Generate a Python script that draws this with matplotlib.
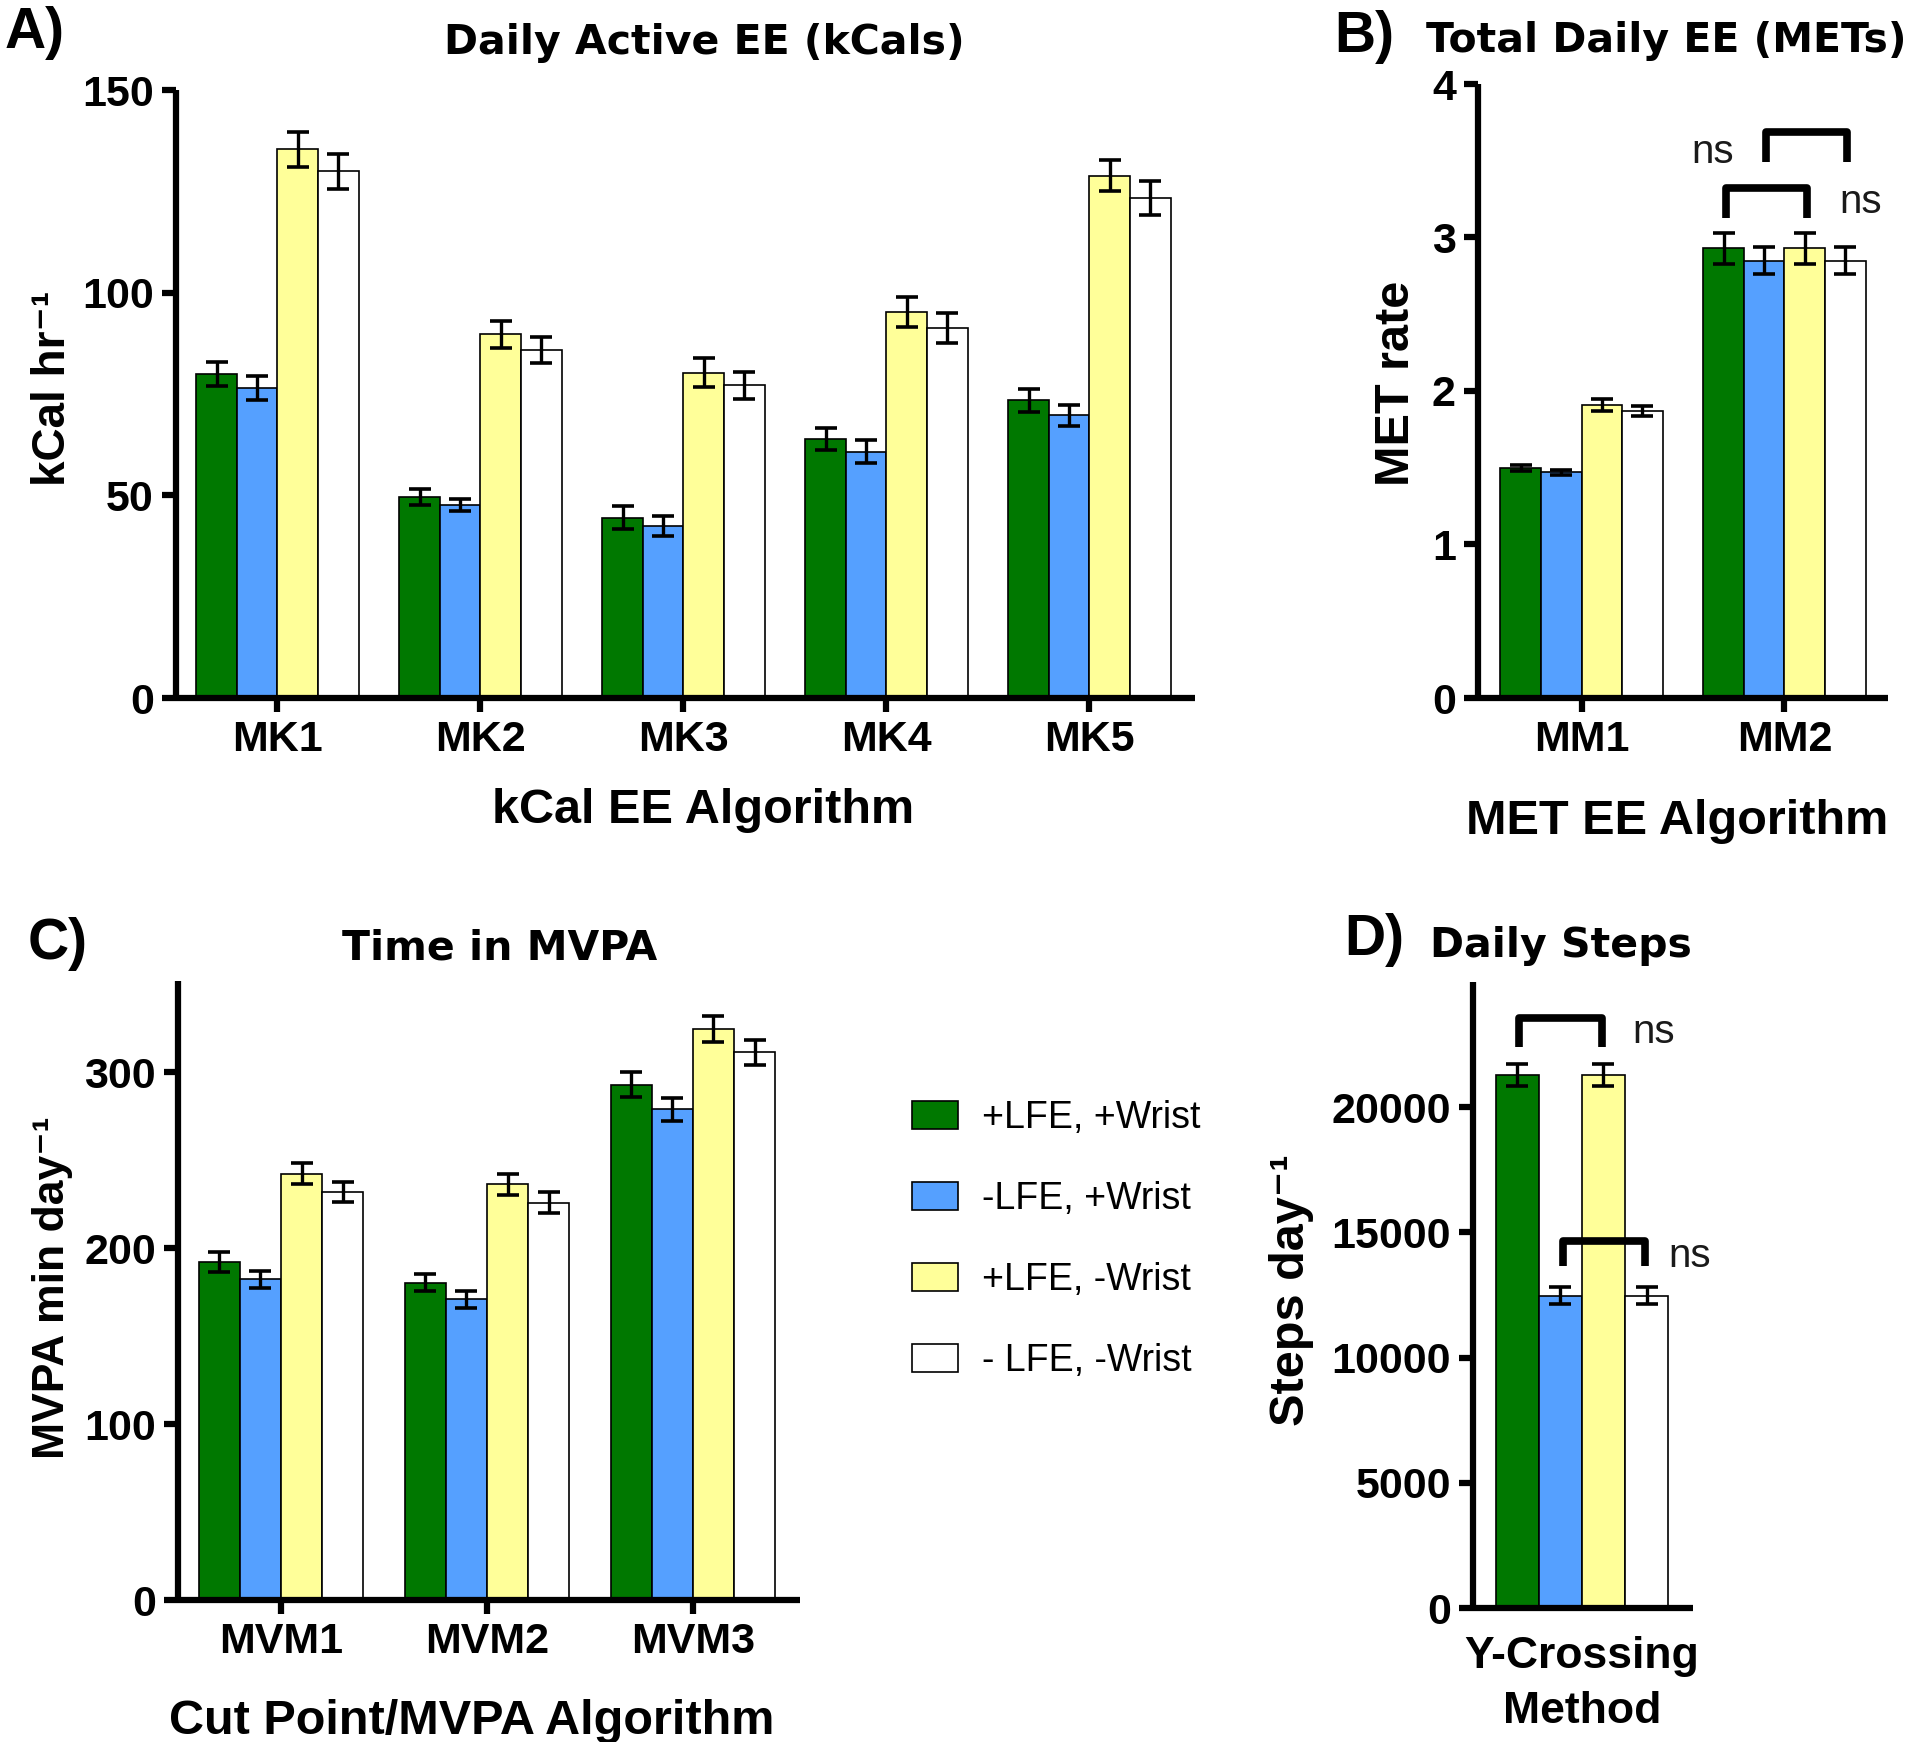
import numpy as np
import matplotlib
matplotlib.use("Agg")
import matplotlib.pyplot as plt

plt.rcParams['font.family'] = ['Liberation Sans', 'DejaVu Sans']

W, H = 1920, 1742

# ---- data ----
groups = ["+LFE, +Wrist", "-LFE, +Wrist", "+LFE, -Wrist", "- LFE, -Wrist"]
colors = ["#007800", "#55A0FF", "#FFFF99", "#FFFFFF"]

kcal_algos = ["MK1", "MK2", "MK3", "MK4", "MK5"]
kcal_mean = [[80.0, 49.6, 44.5, 63.9, 73.4],
             [76.5, 47.6, 42.5, 60.8, 69.7],
             [135.4, 89.7, 80.3, 95.3, 128.9],
             [129.9, 85.8, 77.1, 91.3, 123.3]]
kcal_err = [[3.0, 1.9, 2.8, 2.8, 2.8],
            [2.9, 1.5, 2.5, 2.9, 2.7],
            [4.3, 3.3, 3.5, 3.7, 3.8],
            [4.3, 3.2, 3.3, 3.7, 4.2]]

met_algos = ["MM1", "MM2"]
met_mean = [[1.50, 2.93], [1.47, 2.85], [1.91, 2.93], [1.87, 2.85]]
met_err = [[0.02, 0.10], [0.015, 0.09], [0.04, 0.10], [0.03, 0.09]]

mvpa_algos = ["MVM1", "MVM2", "MVM3"]
mvpa_mean = [[192, 180.5, 293], [182.5, 171, 279],
             [242.5, 236.5, 324.5], [232, 226, 311.5]]
mvpa_err = [[5.7, 4.6, 7.0], [4.8, 5.0, 6.6], [6.0, 6.0, 7.4], [5.5, 6.0, 7.2]]

steps_algos = ["Y-Crossing\nMethod"]
steps_mean = [[21280], [12480], [21280], [12480]]
steps_err = [[440], [320], [440], [320]]

# brackets: (series a, series b, group, top, leg bottom), ns label pos (x, y)
met_brackets = [(0, 2, 1, 3.32, 3.13), (1, 3, 1, 3.69, 3.49)]
met_ns = [(1.27, 3.23), (0.54, 3.56)]
steps_brackets = [(0, 2, 0, 23560, 22400), (1, 3, 0, 14640, 13640)]
steps_ns = [(0.235, 23000), (0.40, 14040)]

bw = 0.2
offs = (np.arange(4) - 1.5) * bw

def box(l, r, t, b):
    return [l / W, 1 - b / H, (r - l) / W, (b - t) / H]

fig = plt.figure(figsize=(W / 100, H / 100), dpi=100)

def draw(ax, cats, mean, err, ylim, yticks, xlim):
    x = np.arange(len(cats))
    for i in range(4):
        ax.bar(x + offs[i], mean[i], bw, color=colors[i], edgecolor='black',
               linewidth=1.2, label=groups[i], zorder=2)
        ax.errorbar(x + offs[i], mean[i], yerr=err[i], fmt='none', ecolor='black',
                    elinewidth=2.4, capsize=8, capthick=2.6, zorder=3)
    ax.set_xlim(*xlim)
    ax.set_ylim(*ylim)
    ax.set_yticks(yticks)
    ax.set_xticks(x)
    ax.set_xticklabels(cats)
    for s in ['top', 'right']:
        ax.spines[s].set_visible(False)
    for s in ['left', 'bottom']:
        ax.spines[s].set_linewidth(4.5)
        ax.spines[s].set_capstyle('butt')
    ax.tick_params(width=4.5, length=10, pad=6, labelsize=31)
    for lb in ax.get_xticklabels() + ax.get_yticklabels():
        lb.set_fontweight('bold')

def bracket(ax, x1, x2, top, bot):
    ax.plot([x1, x1, x2, x2], [bot, top, top, bot], color='black', lw=5.5,
            solid_joinstyle='round', solid_capstyle='butt', clip_on=False, zorder=4)

# A
axA = fig.add_axes(box(176, 1195, 90, 698))
draw(axA, kcal_algos, kcal_mean, kcal_err, (0, 150), [0, 50, 100, 150], (-0.5, 4.52))

# B
axB = fig.add_axes(box(1478, 1888, 84, 698))
draw(axB, met_algos, met_mean, met_err, (0, 4), [0, 1, 2, 3, 4], (-0.51, 1.51))
for (a, b, g, t, bt) in met_brackets:
    bracket(axB, g + offs[a] + 0.01, g + offs[b] + 0.01, t, bt)
for (xn, yn) in met_ns:
    axB.text(xn, yn, "ns", fontsize=29, color='#1a1a1a', ha='left', va='center', clip_on=False)

# C
axC = fig.add_axes(box(178, 800, 981, 1600))
draw(axC, mvpa_algos, mvpa_mean, mvpa_err, (0, 352), [0, 100, 200, 300], (-0.5, 2.52))

# D
axD = fig.add_axes(box(1473, 1693, 982, 1608))
draw(axD, steps_algos, steps_mean, steps_err, (0, 25000),
     [0, 5000, 10000, 15000, 20000], (-0.506, 0.516))
axD.tick_params(axis='x', length=0, pad=20)
for lb in axD.get_xticklabels():
    lb.set_fontsize(32)
    lb.set_linespacing(1.45)
for (a, b, g, t, bt) in steps_brackets:
    bracket(axD, g + offs[a] + 0.01, g + offs[b] - 0.005, t, bt)
for (xn, yn) in steps_ns:
    axD.text(xn, yn, "ns", fontsize=29, color='#1a1a1a', ha='left', va='center', clip_on=False)

# panel letters, titles, labels
def ftext(x, y, s, **kw):
    fig.text(x / W, 1 - y / H, s, **kw)

for (x, y, s) in [(5, 48, "A)"), (1334, 52, "B)"), (28, 959, "C)"), (1344, 955, "D)")]:
    ftext(x, y, s, fontsize=41, fontweight='bold', ha='left', va='baseline')

for (x, y, s) in [(704, 54, "Daily Active EE (kCals)"), (1666, 52, "Total Daily EE (METs)"),
                  (500, 959, "Time in MVPA"), (1561, 957, "Daily Steps")]:
    ftext(x, y, s, fontsize=29.5, fontweight='bold', family='DejaVu Sans',
          ha='center', va='baseline')

for (x, y, s) in [(703, 823, "kCal EE Algorithm"), (1677, 834, "MET EE Algorithm"),
                  (472, 1734, "Cut Point/MVPA Algorithm")]:
    ftext(x, y, s, fontsize=35, fontweight='bold', ha='center', va='baseline')

for (x, y, s, fs) in [(65, 388, "kCal hr\u207b\u00b9", 33), (1409, 383, "MET rate", 35),
                      (64, 1288, "MVPA min day\u207b\u00b9", 32), (1304, 1290, "Steps day\u207b\u00b9", 35)]:
    ftext(x, y, s, fontsize=fs, fontweight='bold', ha='center', va='baseline',
          rotation=90, rotation_mode='anchor')

# legend
handles, labels = axC.get_legend_handles_labels()
fig.legend(handles, labels, loc='upper left', bbox_to_anchor=(912 / W, 1 - 1100 / H),
           frameon=False, fontsize=27, handlelength=1.23, handleheight=0.75,
           handletextpad=0.64, labelspacing=1.2, borderpad=0, borderaxespad=0)

fig.savefig("out.png", dpi=100)
